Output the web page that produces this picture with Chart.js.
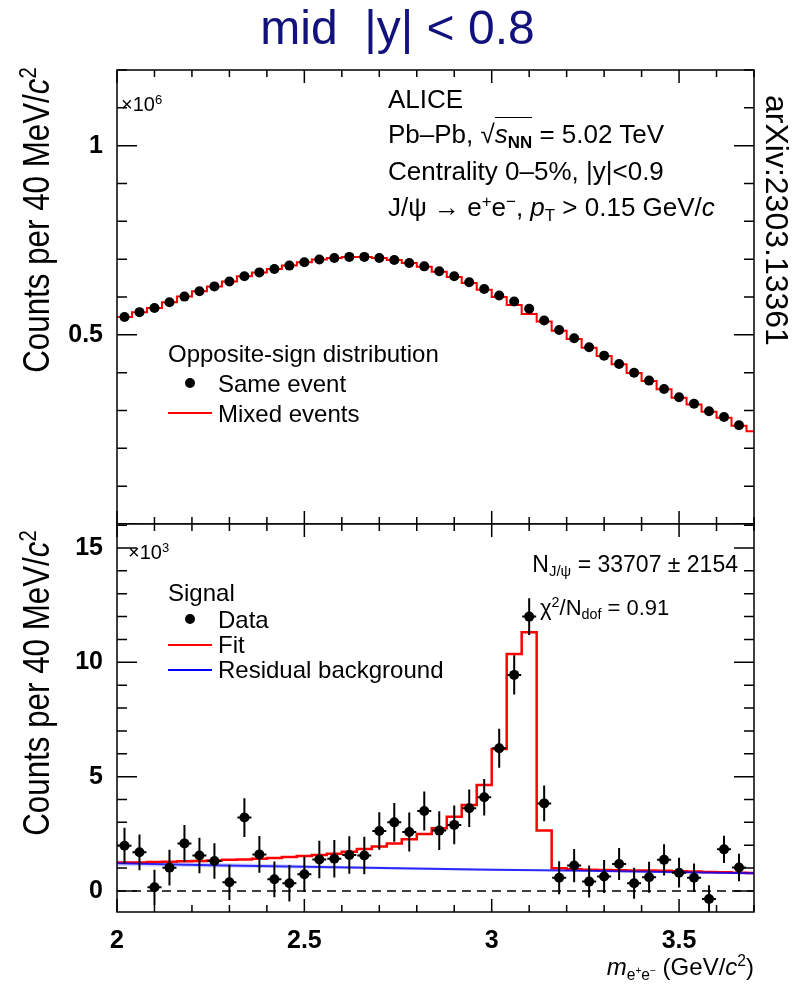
<!DOCTYPE html>
<html>
<head>
<meta charset="utf-8">
<script src="https://cdn.jsdelivr.net/npm/chart.js@4.4.0/dist/chart.umd.min.js"></script>
<style>
  body { margin: 0; background: #fff; }
  #page { position: relative; width: 795px; height: 984px; overflow: hidden; font-family: "Liberation Sans", Arial, sans-serif; }
  canvas { position: absolute; left: 0; }
  .t { position: absolute; white-space: nowrap; color: #000; font-size: 24px; line-height: 1; }
  .a { font-size: 26px; }
  .sup { font-size: 0.65em; position: relative; top: -0.55em; }
  .sub { font-size: 0.65em; position: relative; top: 0.3em; }
  .dot { position: absolute; width: 10px; height: 10px; border-radius: 50%; background: #000; }
  .ln { position: absolute; height: 2px; width: 44px; }
  .ylab { font-size: 36px; width: 400px; text-align: center; transform: rotate(-90deg) scaleX(0.87); transform-origin: left top; }
</style>
</head>
<body>
<div id="page">
  <canvas id="topChart" width="795" height="524" style="top:0"></canvas>
  <canvas id="bottomChart" width="795" height="484" style="top:500px"></canvas>

  <div class="t" style="left:0;width:795px;text-align:center;top:4px;font-size:48px;color:#12127c">mid&nbsp;&nbsp;|y| &lt; 0.8</div>
  <div class="t" style="left:793px;top:95px;font-size:32px;transform:rotate(90deg);transform-origin:left top">arXiv:2303.13361</div>

  <div class="t ylab" style="left:19px;top:394px">Counts per 40 MeV/<i>c</i><span class="sup">2</span></div>
  <div class="t ylab" style="left:19px;top:857px">Counts per 40 MeV/<i>c</i><span class="sup">2</span></div>

  <!-- top panel text -->
  <div class="t" style="left:121px;top:94px;font-size:20px">×10<span class="sup">6</span></div>
  <div class="t a" style="left:388px;top:86px">ALICE</div>
  <div class="t a" style="left:388px;top:121px">Pb–Pb, √<span style="border-top:1.5px solid #000;padding-top:1px"><i>s</i><span class="sub" style="font-weight:bold">NN</span></span> = 5.02 TeV</div>
  <div class="t a" style="left:388px;top:158px">Centrality 0–5%, |y|&lt;0.9</div>
  <div class="t a" style="left:388px;top:194px">J/ψ → e<span class="sup">+</span>e<span class="sup">−</span>, <i>p</i><span class="sub">T</span> &gt; 0.15 GeV/<i>c</i></div>

  <div class="t" style="left:168px;top:342px">Opposite-sign distribution</div>
  <div class="dot" style="left:185px;top:378px"></div>
  <div class="t" style="left:218px;top:372px">Same event</div>
  <div class="ln" style="left:168px;top:412px;background:#ff0000"></div>
  <div class="t" style="left:218px;top:402px">Mixed events</div>

  <!-- bottom panel text -->
  <div class="t" style="left:128px;top:542px;font-size:20px">×10<span class="sup">3</span></div>
  <div class="t" style="right:57px;top:553px;font-size:23px">N<span class="sub">J/ψ</span> = 33707 ± 2154</div>
  <div class="t" style="left:540px;top:597px;font-size:22px">χ<span class="sup">2</span>/N<span class="sub">dof</span> = 0.91</div>
  <div class="t" style="left:168px;top:581px">Signal</div>
  <div class="dot" style="left:185px;top:614px"></div>
  <div class="t" style="left:218px;top:608px">Data</div>
  <div class="ln" style="left:168px;top:644px;background:#ff0000"></div>
  <div class="t" style="left:218px;top:633px">Fit</div>
  <div class="ln" style="left:168px;top:669px;background:#0000ff"></div>
  <div class="t" style="left:218px;top:658px">Residual background</div>

  <div class="t" style="right:41px;top:955px"><i>m</i><span class="sub">e<span class="sup">+</span>e<span class="sup">−</span></span> (GeV/<i>c</i><span class="sup">2</span>)</div>
</div>

<script>
// bin centres in GeV/c^2 (40 MeV bins)
const massCenters = [2.02, 2.06, 2.10, 2.14, 2.18, 2.22, 2.26, 2.30, 2.34, 2.38,
  2.42, 2.46, 2.50, 2.54, 2.58, 2.62, 2.66, 2.70, 2.74, 2.78,
  2.82, 2.86, 2.90, 2.94, 2.98, 3.02, 3.06, 3.10, 3.14, 3.18,
  3.22, 3.26, 3.30, 3.34, 3.38, 3.42, 3.46, 3.50, 3.54, 3.58,
  3.62, 3.66, 3.70];
const binHalfWidth = 0.02;

// top panel, x10^6 counts
const sameEvent = [0.547, 0.560, 0.571, 0.586, 0.601, 0.615, 0.628, 0.641, 0.655, 0.665,
  0.674, 0.683, 0.692, 0.699, 0.703, 0.706, 0.706, 0.703, 0.698, 0.690,
  0.681, 0.668, 0.655, 0.639, 0.621, 0.604, 0.588, 0.569, 0.538, 0.513,
  0.491, 0.467, 0.445, 0.423, 0.400, 0.379, 0.357, 0.335, 0.318, 0.298,
  0.283, 0.261];
const mixedEvents = [0.547, 0.560, 0.571, 0.586, 0.601, 0.615, 0.628, 0.641, 0.655, 0.665,
  0.674, 0.683, 0.692, 0.699, 0.703, 0.706, 0.706, 0.703, 0.698, 0.690,
  0.680, 0.667, 0.653, 0.637, 0.619, 0.600, 0.579, 0.555, 0.535, 0.511,
  0.489, 0.466, 0.444, 0.422, 0.399, 0.378, 0.356, 0.334, 0.316, 0.297,
  0.281, 0.260, 0.245];

// bottom panel, x10^3 counts
const signalData = [1.98, 1.69, 0.16, 1.02, 2.08, 1.55, 1.31, 0.38, 3.21, 1.60,
  0.51, 0.34, 0.73, 1.38, 1.41, 1.57, 1.55, 2.62, 3.00, 2.58,
  3.50, 2.64, 2.89, 3.62, 4.10, 6.24, 9.45, 12.0, 3.83, 0.58,
  1.11, 0.41, 0.63, 1.18, 0.34, 0.60, 1.36, 0.80, 0.58, -0.35,
  1.82, 1.03];
const signalErr = [0.78, 0.78, 0.77, 0.78, 0.80, 0.78, 0.78, 0.77, 0.85, 0.80,
  0.78, 0.80, 0.78, 0.82, 0.82, 0.82, 0.82, 0.82, 0.85, 0.85,
  0.85, 0.85, 0.85, 0.82, 0.80, 0.85, 0.86, 0.80, 0.78, 0.72,
  0.73, 0.70, 0.72, 0.70, 0.68, 0.68, 0.68, 0.65, 0.62, 0.60,
  0.60, 0.60];
const fitValues = [1.24, 1.25, 1.27, 1.28, 1.30, 1.31, 1.33, 1.36, 1.38, 1.41,
  1.44, 1.49, 1.53, 1.57, 1.63, 1.72, 1.84, 1.94, 2.08, 2.26,
  2.49, 2.74, 3.25, 3.76, 4.64, 6.21, 10.36, 11.31, 2.64, 0.99,
  0.95, 0.93, 0.92, 0.91, 0.90, 0.89, 0.88, 0.86, 0.85, 0.83,
  0.82, 0.80, 0.79];
const bkgMass = [2.0, 2.25, 2.5, 2.75, 3.0, 3.25, 3.5, 3.7];
const bkgValues = [1.21, 1.13, 1.06, 0.99, 0.93, 0.88, 0.82, 0.77];
const bkgBand = [0.12, 0.10, 0.08, 0.06, 0.05, 0.04, 0.05, 0.06];

const massTicks = [2, 2.5, 3, 3.5];
const topTicks = [0.5, 1];
const bottomTicks = [0, 5, 10, 15];

// step histogram: one point per lower bin edge plus the last upper edge
function histPoints(centers, values) {
  const pts = values.map((v, i) => ({ x: centers[i] - binHalfWidth, y: v }));
  const last = values.length - 1;
  pts.push({ x: centers[last] + binHalfWidth, y: values[last] });
  return pts;
}

// ROOT style frame with ticks pointing inwards on all four sides
const frameTicks = {
  id: 'frameTicks',
  afterDatasetsDraw(chart, args, opts) {
    const { ctx, chartArea: a, scales: { x, y } } = chart;
    ctx.save();
    ctx.strokeStyle = '#000';
    ctx.lineWidth = 1.5;
    ctx.beginPath();
    for (let i = 20; i <= 37; i++) {
      const px = x.getPixelForValue(i / 10);
      const len = i % 5 === 0 ? 13 : 7;
      ctx.moveTo(px, a.bottom); ctx.lineTo(px, a.bottom - len);
      ctx.moveTo(px, a.top); ctx.lineTo(px, a.top + len);
    }
    for (let k = Math.ceil(y.min / opts.yStep); k * opts.yStep <= y.max + 1e-9; k++) {
      const py = y.getPixelForValue(k * opts.yStep);
      const len = k % 5 === 0 ? 20 : 10;
      ctx.moveTo(a.left, py); ctx.lineTo(a.left + len, py);
      ctx.moveTo(a.right, py); ctx.lineTo(a.right - len, py);
    }
    ctx.stroke();
    ctx.strokeRect(a.left, a.top, a.right - a.left, a.bottom - a.top);
    ctx.restore();
  }
};

// vertical stat errors and small horizontal bars for the signal points
const errorBars = {
  id: 'errorBars',
  afterDatasetsDraw(chart) {
    const { ctx, scales: { x, y }, chartArea: a } = chart;
    chart.data.datasets.forEach(ds => {
      if (!ds.withErrors) return;
      ctx.save();
      ctx.beginPath();
      ctx.rect(a.left, a.top, a.right - a.left, a.bottom - a.top);
      ctx.clip();
      ctx.strokeStyle = '#000';
      ctx.lineWidth = 2;
      ctx.beginPath();
      ds.data.forEach(p => {
        const px = x.getPixelForValue(p.x);
        ctx.moveTo(px, y.getPixelForValue(p.y - p.err));
        ctx.lineTo(px, y.getPixelForValue(p.y + p.err));
        const py = y.getPixelForValue(p.y);
        ctx.moveTo(px - 7, py); ctx.lineTo(px + 7, py);
      });
      ctx.stroke();
      ctx.restore();
    });
  }
};

const tickFont = { family: '"Liberation Sans", Arial, sans-serif', size: 25, weight: 'bold' };

function yScale(min, max, ticks) {
  return {
    type: 'linear', min: min, max: max,
    grid: { display: false, drawTicks: false },
    border: { display: false },
    afterBuildTicks: s => { s.ticks = ticks.map(v => ({ value: v })); },
    // fixed axis width, and no extra label padding pushing the frame in
    afterFit: s => { s.width = 117; s.paddingTop = 0; s.paddingBottom = 0; },
    ticks: { font: tickFont, color: '#000', padding: 14, callback: v => String(v) }
  };
}

Chart.defaults.animation = false;

new Chart(document.getElementById('topChart'), {
  type: 'line',
  data: {
    datasets: [
      {
        label: 'Same event',
        data: sameEvent.map((v, i) => ({ x: massCenters[i], y: v })),
        showLine: false, pointRadius: 5, pointBackgroundColor: '#000', pointBorderWidth: 0
      },
      {
        label: 'Mixed events',
        data: histPoints(massCenters, mixedEvents),
        stepped: true, borderColor: '#ff0000', borderWidth: 2, pointRadius: 0, fill: false
      }
    ]
  },
  options: {
    responsive: false, devicePixelRatio: 1, events: [],
    layout: { autoPadding: false, padding: { top: 70, right: 41, left: 0, bottom: 0 } },
    scales: {
      x: {
        type: 'linear', min: 2, max: 3.7,
        grid: { display: false, drawTicks: false },
        border: { display: false },
        ticks: { display: false },
        afterFit: s => { s.height = 0; }
      },
      y: yScale(0, 1.2, topTicks)
    },
    plugins: { legend: { display: false }, tooltip: { enabled: false }, frameTicks: { yStep: 0.1 } }
  },
  plugins: [frameTicks]
});

new Chart(document.getElementById('bottomChart'), {
  type: 'line',
  data: {
    datasets: [
      {
        label: 'Data',
        data: signalData.map((v, i) => ({ x: massCenters[i], y: v, err: signalErr[i] })),
        withErrors: true,
        showLine: false, pointRadius: 5, pointBackgroundColor: '#000', pointBorderWidth: 0
      },
      {
        label: 'Residual background',
        data: bkgValues.map((v, i) => ({ x: bkgMass[i], y: v })),
        borderColor: 'rgba(0,0,255,0.8)', borderWidth: 2, pointRadius: 0, tension: 0.3, fill: false
      },
      {
        label: 'Fit',
        data: histPoints(massCenters, fitValues),
        stepped: true, borderColor: '#ff0000', borderWidth: 2.5, pointRadius: 0, fill: false
      },
      {
        label: 'bkg upper',
        data: bkgValues.map((v, i) => ({ x: bkgMass[i], y: v + bkgBand[i] })),
        borderWidth: 0, pointRadius: 0, tension: 0.3, fill: '+1', backgroundColor: 'rgba(110,110,255,0.3)'
      },
      {
        label: 'bkg lower',
        data: bkgValues.map((v, i) => ({ x: bkgMass[i], y: v - bkgBand[i] })),
        borderWidth: 0, pointRadius: 0, tension: 0.3, fill: false
      },
      {
        label: 'zero',
        data: [{ x: 2, y: 0 }, { x: 3.7, y: 0 }],
        borderColor: '#000', borderWidth: 1.5, borderDash: [9, 6], pointRadius: 0, fill: false
      }
    ]
  },
  options: {
    responsive: false, devicePixelRatio: 1, events: [],
    layout: { autoPadding: false, padding: { top: 24, right: 41, left: 0, bottom: 0 } },
    scales: {
      x: {
        type: 'linear', min: 2, max: 3.7,
        grid: { display: false, drawTicks: false },
        border: { display: false },
        afterBuildTicks: s => { s.ticks = massTicks.map(v => ({ value: v })); },
        afterFit: s => { s.height = 72; },
        ticks: { font: tickFont, color: '#000', padding: 14, maxRotation: 0, callback: v => String(v) }
      },
      y: yScale(-0.92, 16.05, bottomTicks)
    },
    plugins: { legend: { display: false }, tooltip: { enabled: false }, frameTicks: { yStep: 1 } }
  },
  plugins: [frameTicks, errorBars]
});
</script>
</body>
</html>
